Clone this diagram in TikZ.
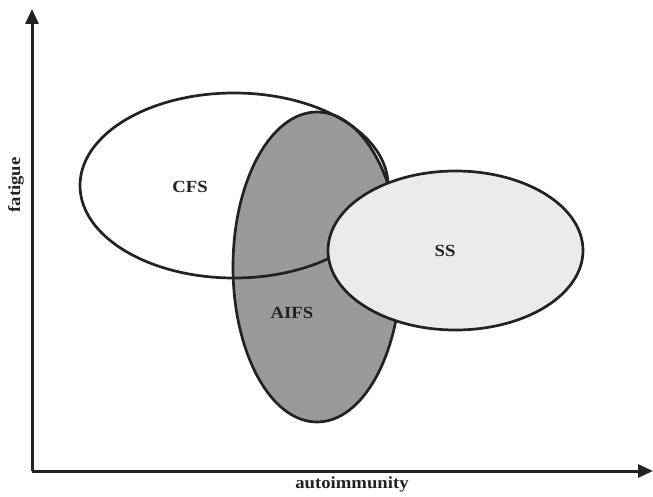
\documentclass[tikz,border=0pt]{standalone}
\usepackage{fontspec}
\setmainfont{Liberation Serif}[FakeStretch=1.1]
\usetikzlibrary{arrows.meta}
\definecolor{ink}{HTML}{222222}
\definecolor{darkfill}{HTML}{9A9A9A}
\definecolor{lightfill}{HTML}{EBEBEB}
\tikzset{
  axis/.style={draw=ink, line width=3pt, -{Triangle[length=15pt,width=13pt]}},
  setline/.style={draw=ink, line width=2.7pt},
  lbl/.style={font=\fontsize{17}{20}\selectfont\bfseries, text=ink, inner sep=0pt},
}
\begin{document}
\begin{tikzpicture}[x=1pt,y=-1pt]
\useasboundingbox (0,0) rectangle (653,497);
% coordinates
\coordinate (O) at (32,471);
\coordinate (ytip) at (32,9);
\coordinate (xtip) at (653,471);
% CFS fill
\fill[white] (234,185.5) ellipse [x radius=154, y radius=92.5];
% AIFS
\path[setline, fill=darkfill] (317,267) ellipse [x radius=84, y radius=155];
% CFS outline over AIFS
\path[setline] (234,185.5) ellipse [x radius=154, y radius=92.5];
% SS
\path[setline, fill=lightfill] (455.5,250.5) ellipse [x radius=127.5, y radius=79.5];
% axes
\draw[axis] (O) -- (ytip);
\draw[axis] (O) -- (xtip);
% labels
\node[lbl] (cfs) at (190,187) {CFS};
\node[lbl] (ss) at (445,251) {SS};
\node[lbl] (aifs) at (292,313) {AIFS};
\node[lbl, rotate=90] (fat) at (16,185) {fatigue};
\node[lbl] (auto) at (352,484) {autoimmunity};
\end{tikzpicture}
\end{document}
